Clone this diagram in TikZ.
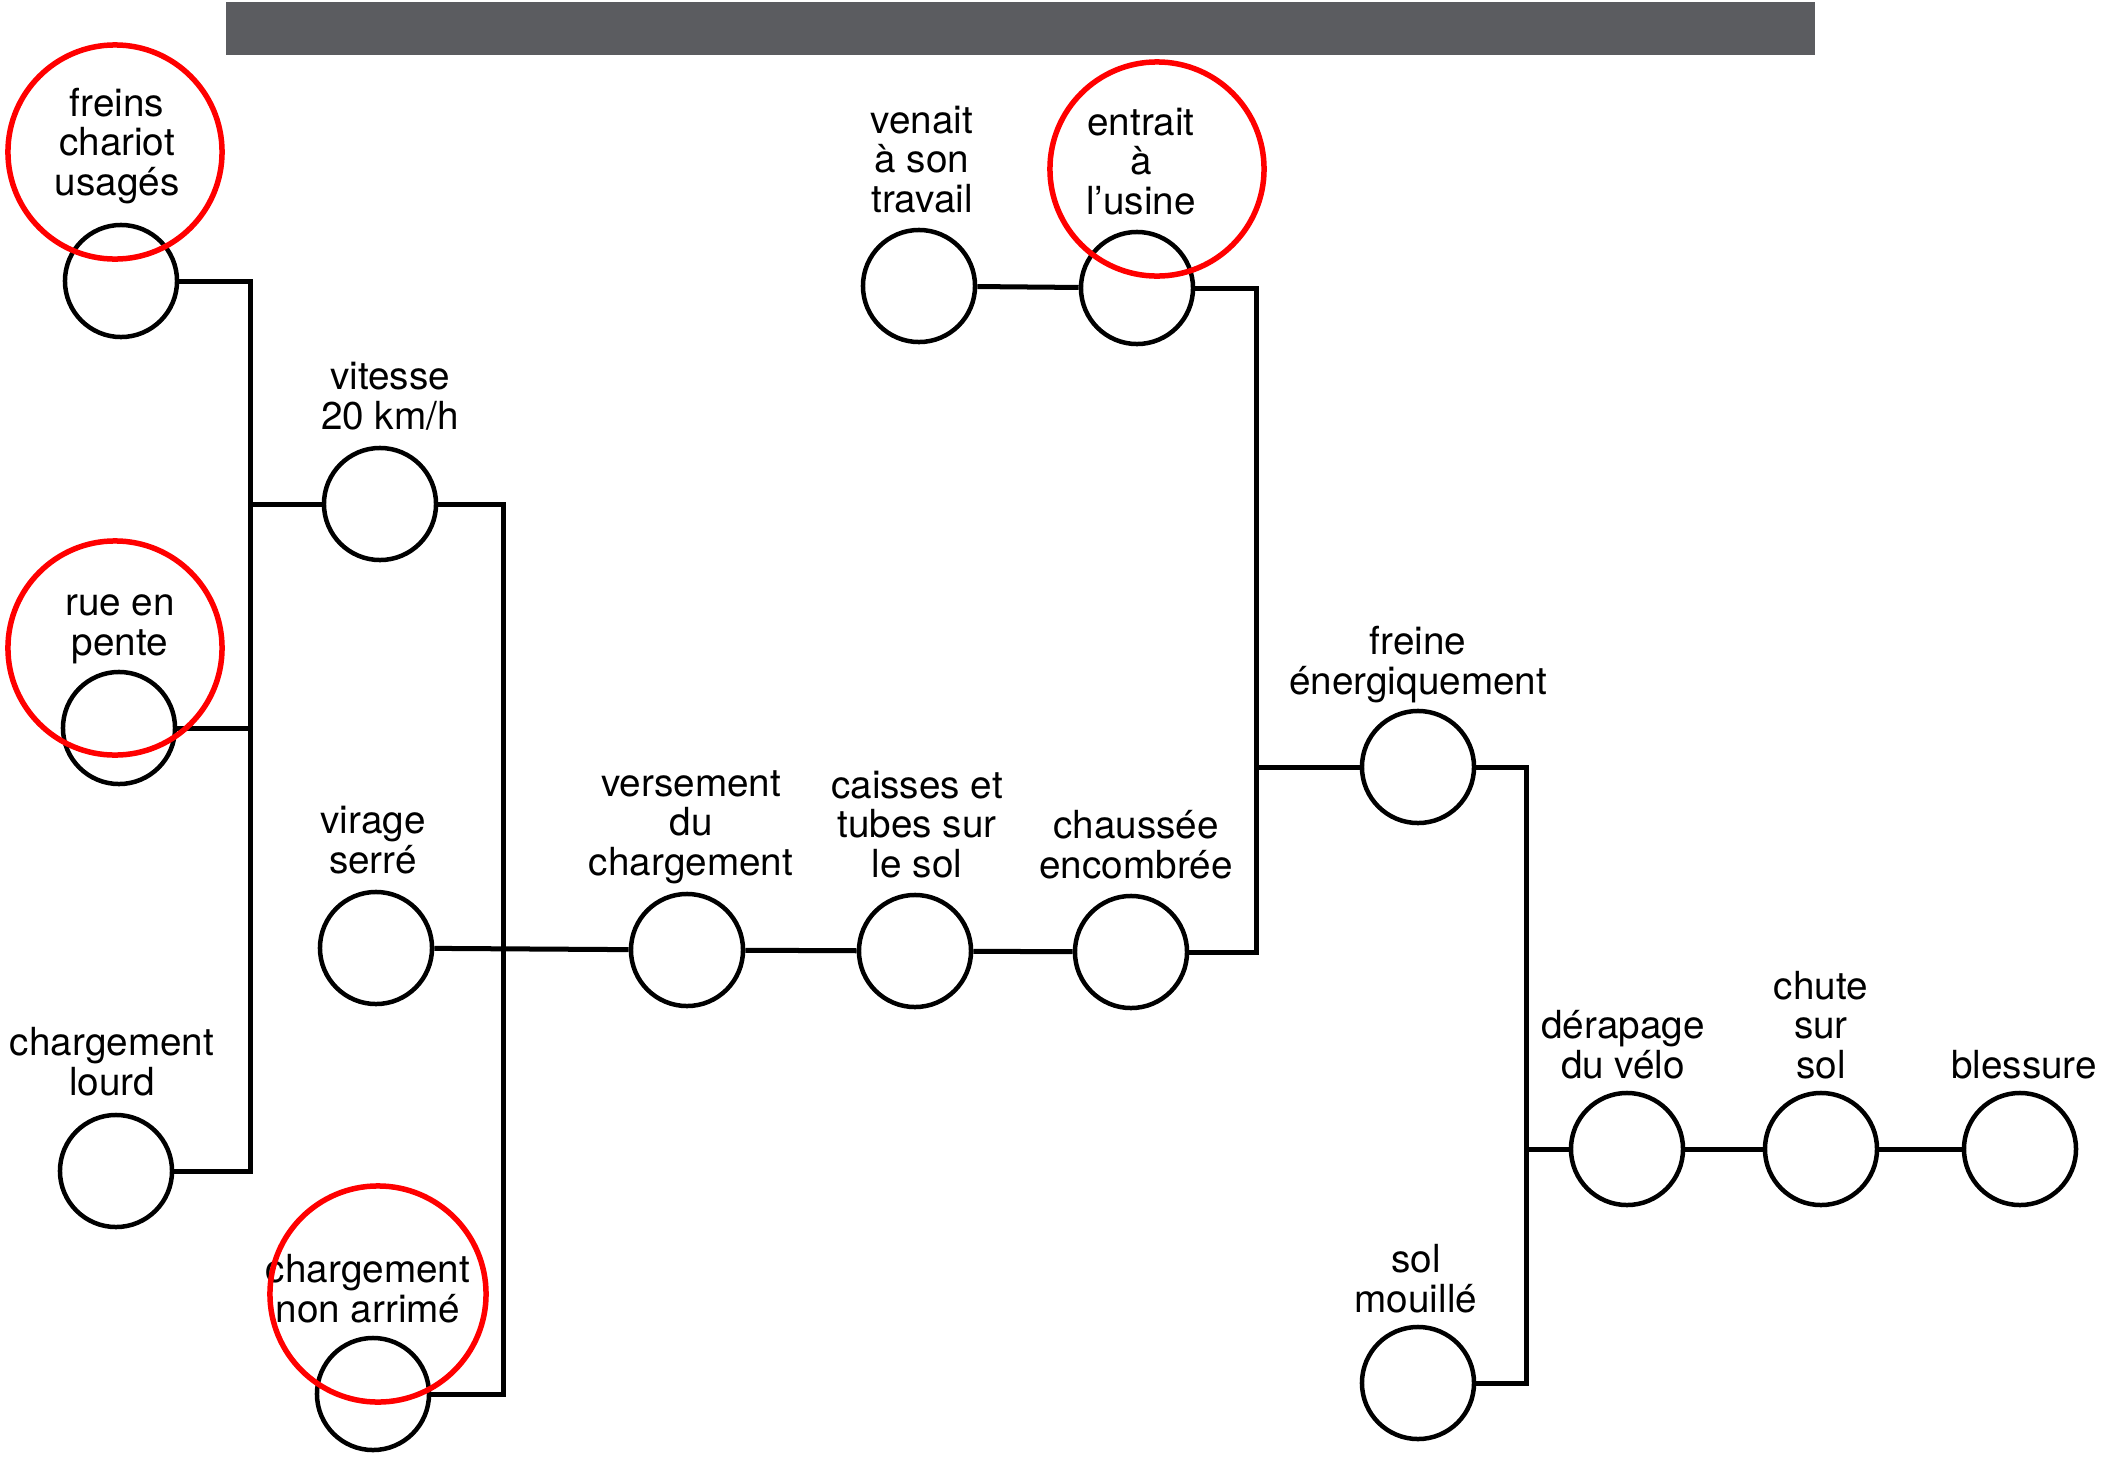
\documentclass[tikz,border=0pt]{standalone}
\usepackage{fontspec}
\setmainfont{TeX Gyre Heros}
\usetikzlibrary{positioning}
\definecolor{bargray}{HTML}{5B5C60}

\begin{document}
\begin{tikzpicture}[
    x=0.01cm, y=-0.01cm,
    font=\fontsize{11}{11.2}\selectfont,
    evt/.style={draw, circle, line width=0.045cm, minimum size=1.12cm, inner sep=0pt},
    lbl/.style={align=center, inner sep=0pt, anchor=base},
    wire/.style={line width=0.05cm, line join=miter},
    hl/.style={draw=red, line width=0.055cm},
  ]
  \useasboundingbox (0,0) rectangle (2111,1463);

  % --- Title bar ----------------------------------------------------------
  \fill[bargray] (226,2) rectangle (1815,55);

  % --- Events -------------------------------------------------------------
  \node[evt] (freins)   at ( 121, 281) {};
  \node[evt] (pente)    at ( 119, 728) {};
  \node[evt] (lourd)    at ( 116,1171) {};
  \node[evt] (vitesse)  at ( 380, 504) {};
  \node[evt] (virage)   at ( 376, 948) {};
  \node[evt] (arrime)   at ( 373,1394) {};
  \node[evt] (versement) at ( 687, 950) {};
  \node[evt] (caisses)  at ( 915, 951) {};
  \node[evt] (chaussee) at (1131, 952) {};
  \node[evt] (venait)   at ( 919, 286) {};
  \node[evt] (usine)    at (1137, 288) {};
  \node[evt] (freine)   at (1418, 767) {};
  \node[evt] (derapage) at (1627,1149) {};
  \node[evt] (chute)    at (1821,1149) {};
  \node[evt] (blessure) at (2020,1149) {};
  \node[evt] (mouille)  at (1418,1383) {};

  % --- Labels (last baseline) ---------------------------------------------
  \node[lbl] (t-freins)   at ( 117, 195) {freins\\chariot\\usagés};
  \node[lbl] (t-pente)    at ( 120, 655) {rue en\\pente};
  \node[lbl] (t-lourd)    at ( 112,1095) {chargement\\lourd};
  \node[lbl] (t-vitesse)  at ( 390, 429) {vitesse\\20 km/h};
  \node[lbl] (t-virage)   at ( 373, 873) {virage\\serré};
  \node[lbl] (t-arrime)   at ( 368,1322) {chargement\\non arrimé};
  \node[lbl] (t-versement) at ( 691, 875) {versement\\du\\chargement};
  \node[lbl] (t-caisses)  at ( 917, 877) {caisses et\\tubes sur\\le sol};
  \node[lbl] (t-chaussee) at (1136, 878) {chaussée\\encombrée};
  \node[lbl] (t-venait)   at ( 922, 212) {venait\\à son\\travail};
  \node[lbl] (t-usine)    at (1141, 214) {entrait\\à\\l’usine};
  \node[lbl] (t-freine)   at (1418, 694) {freine\\énergiquement};
  \node[lbl] (t-derapage) at (1623,1078) {dérapage\\du vélo};
  \node[lbl] (t-chute)    at (1821,1078) {chute\\sur\\sol};
  \node[lbl] (t-blessure) at (2024,1078) {blessure};
  \node[lbl] (t-mouille)  at (1416,1312) {sol\\mouillé};

  % --- Connectors ---------------------------------------------------------
  \coordinate (busA) at ( 250, 281);
  \coordinate (busB) at ( 503, 504);
  \coordinate (busC) at (1256, 288);
  \coordinate (busD) at (1526, 767);

  \draw[wire] (freins) -- (freins -| busA) -- (lourd -| busA) -- (lourd);
  \draw[wire] (pente) -- (pente -| busA);
  \draw[wire] (vitesse -| busA) -- (vitesse);

  \draw[wire] (vitesse) -- (vitesse -| busB) -- (arrime -| busB) -- (arrime);
  \draw[wire] (virage) -- (versement);
  \draw[wire] (versement) -- (caisses);
  \draw[wire] (caisses) -- (chaussee);

  \draw[wire] (venait) -- (usine);
  \draw[wire] (usine) -- (usine -| busC) -- (chaussee -| busC) -- (chaussee);
  \draw[wire] (freine -| busC) -- (freine);

  \draw[wire] (freine) -- (freine -| busD) -- (mouille -| busD) -- (mouille);
  \draw[wire] (derapage -| busD) -- (derapage);
  \draw[wire] (derapage) -- (chute);
  \draw[wire] (chute) -- (blessure);

  % --- Highlights ---------------------------------------------------------
  \draw[hl] ( 115, 152) circle[radius=1.07cm];
  \draw[hl] ( 115, 648) circle[radius=1.07cm];
  \draw[hl] (1157, 169) circle[radius=1.07cm];
  \draw[hl] ( 378,1294) circle[radius=1.08cm];

\end{tikzpicture}
\end{document}
